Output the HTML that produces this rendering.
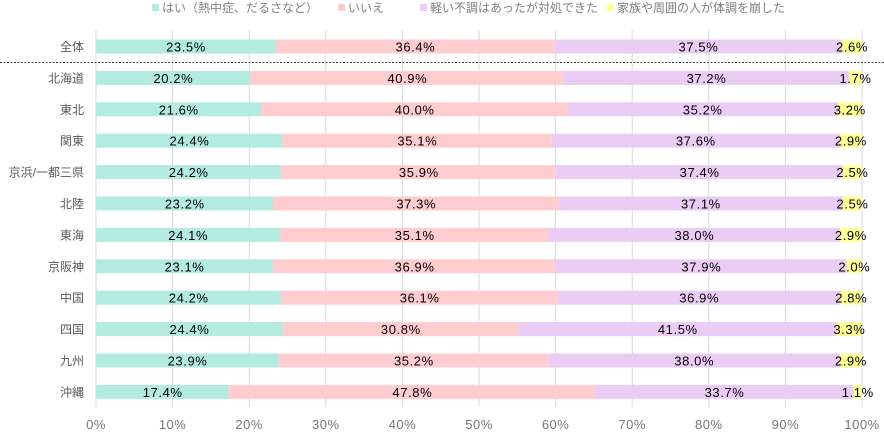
<!DOCTYPE html>
<html><head><meta charset="utf-8"><style>
html,body{margin:0;padding:0;background:#fff;}
svg{display:block;font-family:"Liberation Sans","Noto Sans CJK JP",sans-serif;}
</style></head><body>
<svg id="c" width="884" height="435" xmlns="http://www.w3.org/2000/svg"></svg>
<script>
var data=[["全体",23.5,36.4,37.5,2.6],["北海道",20.2,40.9,37.2,1.7],["東北",21.6,40.0,35.2,3.2],["関東",24.4,35.1,37.6,2.9],["京浜/一都三県",24.2,35.9,37.4,2.5],["北陸",23.2,37.3,37.1,2.5],["東海",24.1,35.1,38.0,2.9],["京阪神",23.1,36.9,37.9,2.0],["中国",24.2,36.1,36.9,2.8],["四国",24.4,30.8,41.5,3.3],["九州",23.9,35.2,38.0,2.9],["沖縄",17.4,47.8,33.7,1.1]];
var cols=["#b3ebe1","#ffcccf","#eaccf5","#ffff99"];
var x0=96,W=766,s="";
for(var i=0;i<=10;i++){var x=x0+W*i/10;s+='<line x1="'+x+'" y1="30" x2="'+x+'" y2="407" stroke="#d9d9d9" stroke-width="1"/>';
s+='<text x="'+x+'" y="429" font-size="13" fill="#767676" text-anchor="middle" letter-spacing="0.5">'+(i*10)+'%</text>';}
s+='<line x1="0" y1="62.5" x2="884" y2="62.5" stroke="#404040" stroke-dasharray="2,1.5" stroke-width="1"/>';
for(var r=0;r<data.length;r++){var d=data[r],cy=46.5+r*31.4,acc=0;
s+='<text x="84" y="'+(cy+4.5)+'" font-size="12" fill="#595959" text-anchor="end">'+d[0]+'</text>';
var tot=d[1]+d[2]+d[3]+d[4];
for(var k=1;k<=4;k++){var xs=x0+W*acc/tot,w=W*d[k]/tot;
s+='<rect x="'+xs+'" y="'+(cy-7)+'" width="'+w+'" height="14" fill="'+cols[k-1]+'"/>';acc+=d[k];}
acc=0;
for(var k=1;k<=4;k++){var xs=x0+W*acc/tot,w=W*d[k]/tot;
s+='<text x="'+(xs+w/2)+'" y="'+(cy+5)+'" font-size="13" fill="#000" text-anchor="middle" letter-spacing="0.6">'+d[k].toFixed(1)+'%</text>';acc+=d[k];}
}
var leg=[[152,"はい（熱中症、だるさなど）"],[338,"いいえ"],[420,"軽い不調はあったが対処できた"],[607,"家族や周囲の人が体調を崩した"]];
for(var j=0;j<4;j++){s+='<rect x="'+leg[j][0]+'" y="4" width="7" height="7" fill="'+cols[j]+'"/>';
s+='<text x="'+(leg[j][0]+10)+'" y="12" font-size="12" fill="#7f7f7f">'+leg[j][1]+'</text>';}
document.getElementById("c").innerHTML=s;
</script>
</body></html>
